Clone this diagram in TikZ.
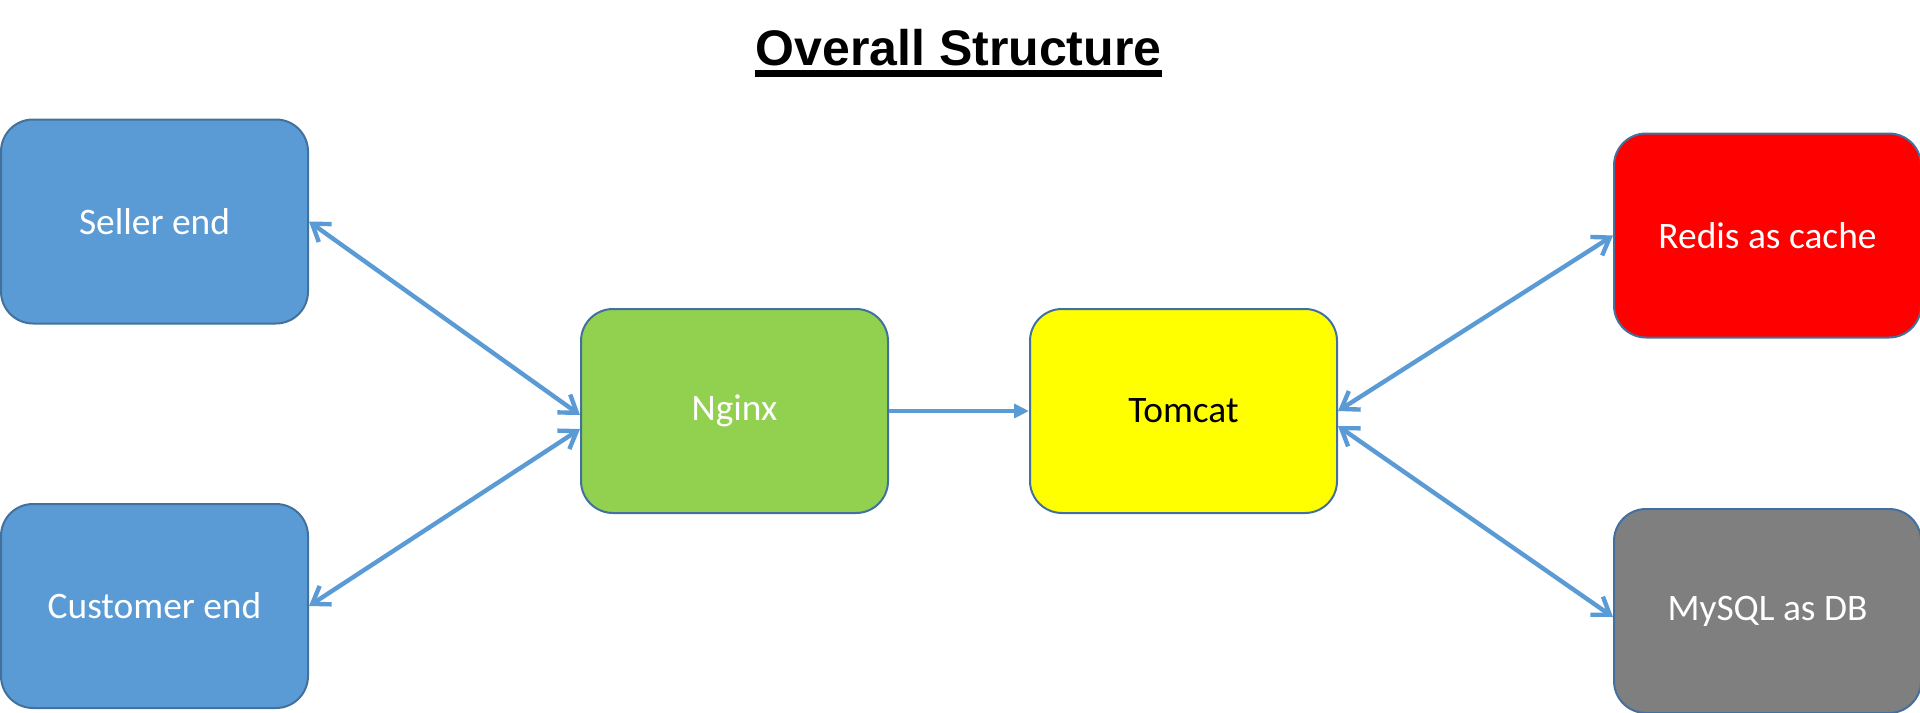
\documentclass[tikz,border=0pt]{standalone}
\usepackage{fontspec}
\setmainfont{Carlito}
\newfontfamily\titlefont{Liberation Sans}
\usetikzlibrary{arrows.meta, positioning}
\definecolor{endblue}{RGB}{91,155,213}
\definecolor{boxborder}{RGB}{65,113,156}
\definecolor{nginxgreen}{RGB}{146,208,80}
\definecolor{tomcatyellow}{RGB}{255,255,0}
\definecolor{redisred}{RGB}{255,0,0}
\definecolor{dbgrey}{RGB}{127,127,127}
\definecolor{linkblue}{RGB}{91,155,213}

\begin{document}
\begin{tikzpicture}
    [x=0.5pt, y=-0.5pt, node distance=70pt,
    block/.style={rectangle, draw=boxborder, line width=1pt, rounded corners=16pt,
    minimum width=153.5pt, minimum height=102pt, text=white, font=\fontsize{18.7}{22}\selectfont},
    link/.style={linkblue, line width=2.2pt, line cap=round,
    {Straight Barb[length=8pt, width=11pt]}-{Straight Barb[length=8pt, width=11pt]}},
    arrow/.style={linkblue, line width=2.2pt, -{Triangle[length=7.5pt, width=7pt]}}]
    \useasboundingbox (0,0) rectangle (1920,712);
    \node [font=\titlefont\bfseries\fontsize{25}{30}\selectfont, inner sep=0pt, anchor=base]
    (title) at (958.5,65) {Overall Structure};
    \draw [line width=3.5pt] ([yshift=-4.25pt]title.base west) -- ([yshift=-4.25pt]title.base east);

    \node [block, fill=endblue] (seller) at (154.5,221.5) {Seller end};
    \node [block, fill=endblue] (customer) at (154.5,606) {Customer end};
    \node [block, fill=nginxgreen] (nginx) at (734.5,411) {Nginx};
    \node [block, fill=tomcatyellow, text=black, right=of nginx] (tomcat) {Tomcat};
    \node [block, fill=redisred] (redis) at (1767.5,235.5) {Redis as cache};
    \node [block, fill=dbgrey] (mysql) at (1767.5,611) {MySQL as DB};

    \draw [link] (seller.east) -- ([yshift=-2pt]nginx.west);
    \draw [link] (customer.east) -- ([yshift=-9pt]nginx.west);
    \draw [arrow] (nginx.east) -- (tomcat.west);
    \draw [link] (tomcat.east) -- (redis.west);
    \draw [link] ([yshift=-7.5pt]tomcat.east) -- ([yshift=-3pt]mysql.west);
  \end{tikzpicture}
\end{document}
